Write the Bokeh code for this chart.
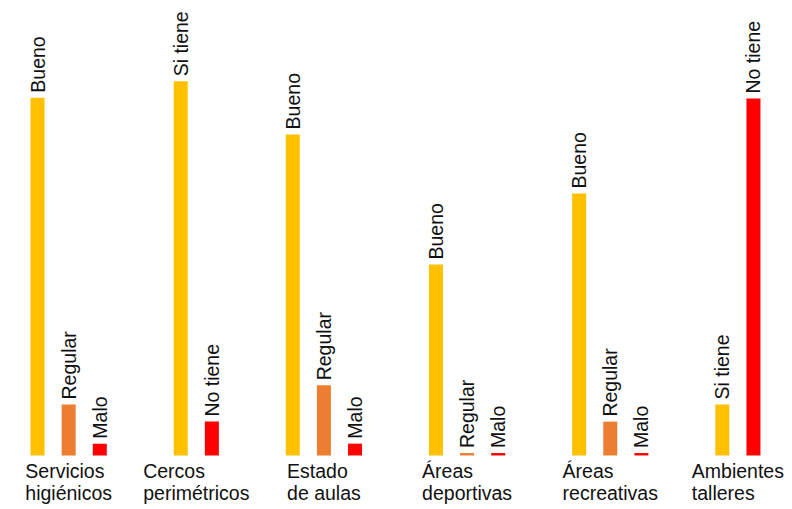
import math
from bokeh.plotting import figure
from bokeh.models import FactorRange, Range1d, ColumnDataSource
from bokeh.core.properties import value
from bokeh.embed import file_html
from bokeh.resources import INLINE

# ---- data ----
categories = ["Servicios higiénicos", "Cercos perimétricos", "Estado de aulas",
              "Áreas deportivas", "Áreas recreativas", "Ambientes talleres"]
category_labels = ["Servicios\nhigiénicos", "Cercos\nperimétricos", "Estado\nde aulas",
                   "Áreas\ndeportivas", "Áreas\nrecreativas", "Ambientes\ntalleres"]

servicios_opts = ["Bueno", "Regular", "Malo"]
servicios_vals = [87.7, 12.5, 2.9]
cercos_opts = ["Si tiene", "No tiene"]
cercos_vals = [91.7, 8.3]
aulas_opts = ["Bueno", "Regular", "Malo"]
aulas_vals = [78.7, 17.2, 2.9]
deportivas_opts = ["Bueno", "Regular", "Malo"]
deportivas_vals = [46.8, 0.6, 0.6]
recreativas_opts = ["Bueno", "Regular", "Malo"]
recreativas_vals = [64.2, 8.3, 0.6]
talleres_opts = ["Si tiene", "No tiene"]
talleres_vals = [12.5, 87.5]

YELLOW = "#FFC000"
ORANGE = "#ED7D31"
RED = "#FF0000"
option_colors = {"Bueno": YELLOW, "Si tiene": YELLOW, "Regular": ORANGE,
                 "Malo": RED, "No tiene": RED}

groups = [(servicios_opts, servicios_vals), (cercos_opts, cercos_vals),
          (aulas_opts, aulas_vals), (deportivas_opts, deportivas_vals),
          (recreativas_opts, recreativas_vals), (talleres_opts, talleres_vals)]

factors, tops, texts, colors = [], [], [], []
for cat, (opts, vals) in zip(categories, groups):
    for o, v in zip(opts, vals):
        factors.append((cat, o))
        tops.append(v)
        texts.append(o)
        colors.append(option_colors[o])

src = ColumnDataSource(dict(x=factors, top=tops, text=texts, color=colors))
cat_src = ColumnDataSource(dict(x=categories, y=[0] * len(categories), text=category_labels))

FONT = value("Liberation Sans")

p = figure(width=790, height=507, output_backend="svg", toolbar_location=None,
           x_range=FactorRange(*factors, factor_padding=0, group_padding=1.6,
                               range_padding=0.69, range_padding_units="absolute"),
           y_range=Range1d(-12.75, 111.52),
           min_border=0, outline_line_color=None, background_fill_color="white",
           border_fill_color="white")
p.axis.visible = False
p.grid.visible = False

p.vbar(x="x", top="top", bottom=0, width=0.45, source=src,
       fill_color="color", line_color=None)

p.text(x="x", y="top", text="text", source=src, angle=math.pi / 2,
       text_align="left", text_baseline="middle", y_offset=-5,
       text_font=FONT, text_font_size="19.5px", text_color="#111111")

p.text(x="x", y="y", text="text", source=cat_src, anchor="top_center",
       text_align="left", text_baseline="top", y_offset=5, text_line_height=1.0,
       text_font=FONT, text_font_size="19.5px", text_color="#111111")

open("out.html", "w").write(file_html(p, INLINE))
